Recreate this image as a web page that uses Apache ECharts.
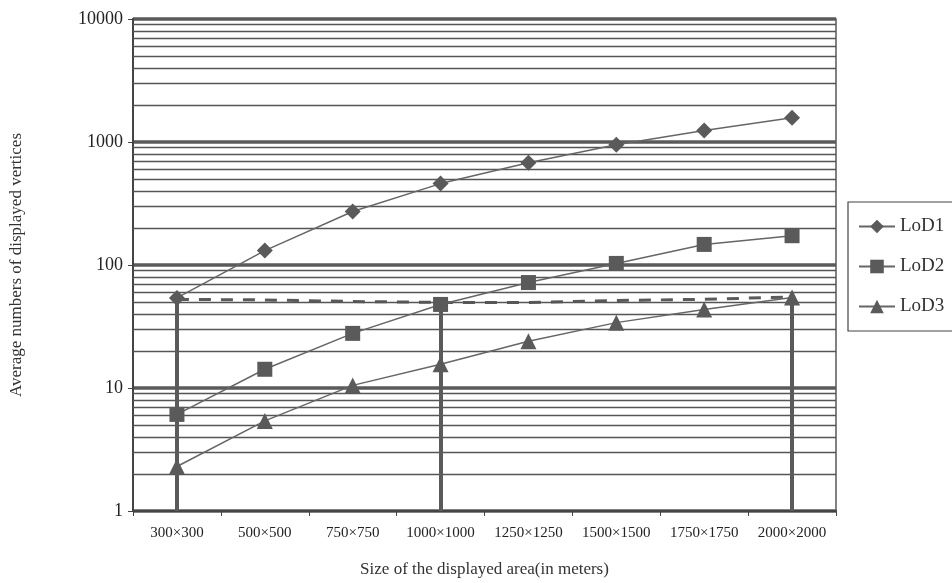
<!DOCTYPE html>
<html><head><meta charset="utf-8">
<script src="https://cdn.jsdelivr.net/npm/echarts@6/dist/echarts.min.js"></script>
<style>html,body{margin:0;padding:0;background:#fff}#c{width:952px;height:583px}</style>
</head><body><div id="c"></div>
<script>
const categories = ['300×300','500×500','750×750','1000×1000','1250×1250','1500×1500','1750×1750','2000×2000'];
const lod1 = [54,131,272,459,679,950,1240,1574];
const lod2 = [6.1,14.2,27.8,47.8,72,103,147,173];
const lod3 = [2.3,5.4,10.5,15.6,24,34,43.5,54.5];
const dashedRef = [52.5,52,50.5,49.6,49.6,51.5,52.6,55];
const minorGrid = [2,3,4,5,6,7,8,9,20,30,40,50,60,70,80,90,200,300,400,500,600,700,800,900,2000,3000,4000,5000,6000,7000,8000,9000];
const verticalMarks = [['300×300',54],['1000×1000',48],['2000×2000',55]];

const serif = 'Liberation Serif';
const dark = '#5a5a5a';
const chart = echarts.init(document.getElementById('c'));

const minorLines = minorGrid.map(v => ({yAxis: v}));
const vLines = verticalMarks.map(m => [{xAxis: m[0], yAxis: 1}, {xAxis: m[0], yAxis: m[1]}]);

chart.setOption({
  animation: false,
  backgroundColor: '#fff',
  grid: {left: 131, right: 116, top: 19, bottom: 71, show: true, borderColor: dark, borderWidth: 1.5},
  legend: {
    left: 848, top: 202, orient: 'vertical',
    borderColor: '#444', borderWidth: 1.2, padding: [15, 30, 15, 10],
    itemWidth: 36, itemHeight: 17, itemGap: 21,
    textStyle: {fontFamily: serif, fontSize: 19, color: '#333'},
    data: ['LoD1','LoD2','LoD3']
  },
  xAxis: {
    type: 'category', data: categories, boundaryGap: true,
    name: 'Size of the displayed area(in meters)', nameLocation: 'middle', nameGap: 50,
    nameTextStyle: {fontFamily: serif, fontSize: 17, color: '#333'},
    axisLine: {lineStyle: {color: '#444', width: 2}},
    axisTick: {show: true, length: 5, lineStyle: {color: '#444'}},
    axisLabel: {fontFamily: serif, fontSize: 15, color: '#222', margin: 15, interval: 0},
    splitLine: {show: false}
  },
  yAxis: {
    type: 'log', logBase: 10, min: 1, max: 10000,
    name: 'Average numbers of displayed vertices', nameLocation: 'middle', nameGap: 108,
    nameTextStyle: {fontFamily: serif, fontSize: 17, color: '#333'},
    axisLine: {show: true, lineStyle: {color: '#444', width: 2}},
    axisTick: {show: true, length: 5, lineStyle: {color: '#444'}},
    axisLabel: {fontFamily: serif, fontSize: 18, color: '#222', margin: 10, formatter: v => String(Math.round(v))},
    splitLine: {show: true, lineStyle: {color: dark, width: 3.5}}
  },
  series: [
    {
      name: 'grid', type: 'line', data: [], silent: true,
      markLine: {silent: true, symbol: 'none', label: {show: false},
        lineStyle: {color: '#555', width: 1.3, type: 'solid'}, data: minorLines}
    },
    {
      name: 'ref', type: 'line', data: dashedRef, showSymbol: false, silent: true, z: 3,
      lineStyle: {color: dark, width: 3, type: [12, 10]},
      markLine: {silent: true, symbol: 'none', label: {show: false},
        lineStyle: {color: dark, width: 4, type: 'solid'}, data: vLines}
    },
    {name: 'LoD1', type: 'line', data: lod1, symbol: 'diamond', symbolSize: 16, z: 5,
      lineStyle: {color: '#666', width: 1.5}, itemStyle: {color: dark}},
    {name: 'LoD2', type: 'line', data: lod2, symbol: 'rect', symbolSize: 15, z: 5,
      lineStyle: {color: '#666', width: 1.5}, itemStyle: {color: dark}},
    {name: 'LoD3', type: 'line', data: lod3, symbol: 'triangle', symbolSize: 16, z: 5,
      lineStyle: {color: '#666', width: 1.5}, itemStyle: {color: dark}}
  ]
});
</script></body></html>
